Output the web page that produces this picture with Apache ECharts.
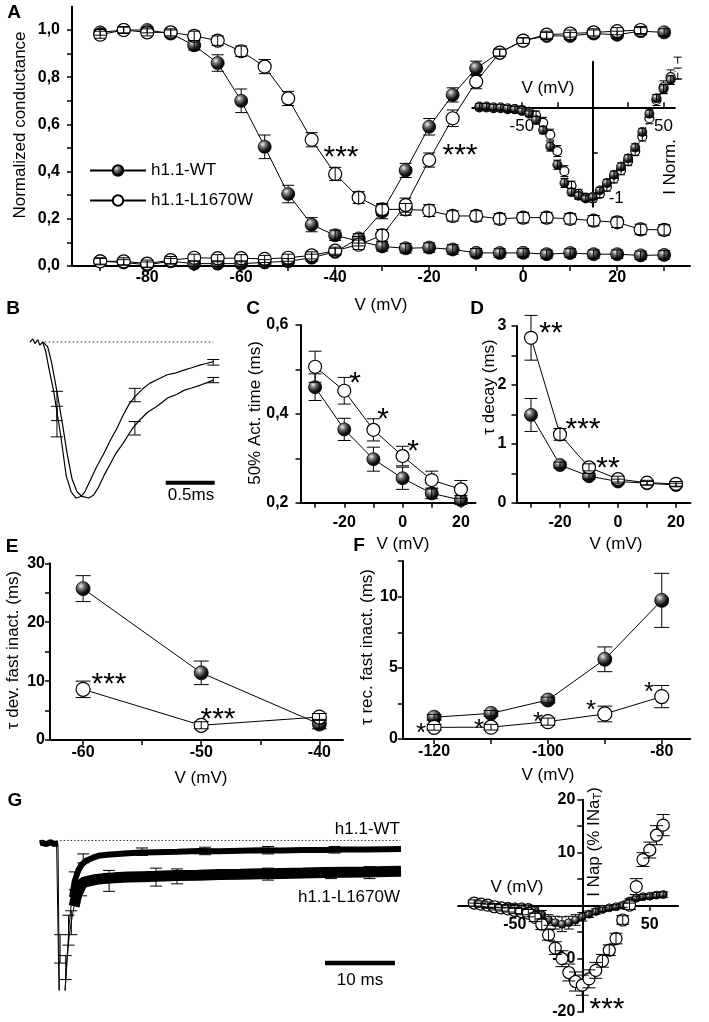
<!DOCTYPE html>
<html><head><meta charset="utf-8">
<script src="https://cdn.jsdelivr.net/npm/echarts@6/dist/echarts.min.js"></script>
<style>html,body{margin:0;padding:0;background:#fff}#c{width:709px;height:1022px}</style>
</head><body><div id="c"></div>
<script>
// ===== DATA =====
// Panel A: steady-state inactivation & activation (normalized conductance)
const A_V = [-90,-85,-80,-75,-70,-65,-60,-55,-50,-45,-40,-35,-30,-25,-20,-15,-10,-5,0,5,10,15,20,25,30];
const A_inact_WT = [0.99,1.0,1.0,0.985,0.935,0.86,0.70,0.505,0.305,0.175,0.13,0.105,0.083,0.075,0.078,0.07,0.056,0.055,0.056,0.05,0.055,0.05,0.05,0.045,0.047];
const A_inact_WT_err = [0.012,0.012,0.012,0.015,0.02,0.035,0.05,0.05,0.037,0.03,0.022,0.02,0.02,0.02,0.02,0.02,0.018,0.018,0.018,0.018,0.018,0.018,0.018,0.018,0.018];
const A_inact_MUT = [0.98,1.0,0.99,0.99,0.975,0.955,0.91,0.845,0.71,0.535,0.39,0.29,0.24,0.24,0.235,0.212,0.212,0.2,0.205,0.205,0.2,0.192,0.185,0.155,0.153];
const A_inact_MUT_err = [0.015,0.015,0.015,0.015,0.02,0.02,0.022,0.03,0.03,0.03,0.028,0.025,0.025,0.025,0.025,0.022,0.022,0.022,0.022,0.022,0.022,0.022,0.022,0.022,0.022];
const A_act_WT = [0.02,0.015,0.005,0.02,0.01,0.01,0.01,0.015,0.02,0.035,0.06,0.117,0.23,0.405,0.59,0.725,0.838,0.904,0.955,0.975,0.975,0.985,0.98,0.995,0.99];
const A_act_WT_err = [0.012,0.012,0.012,0.012,0.012,0.012,0.012,0.012,0.012,0.015,0.015,0.02,0.03,0.03,0.035,0.03,0.03,0.015,0.012,0.015,0.015,0.015,0.015,0.015,0.015];
const A_V_actMUT = [-90,-85,-80,-75,-70,-65,-60,-55,-50,-45,-40,-35,-30,-25,-20,-15,-10,-5,0,5,10,15,20,25];
const A_act_MUT = [0.02,0.02,0.01,0.025,0.035,0.033,0.033,0.03,0.035,0.045,0.065,0.09,0.13,0.258,0.449,0.626,0.781,0.904,0.955,0.98,0.985,0.99,0.995,1.0];
const A_act_MUT_err = [0.015,0.015,0.015,0.015,0.015,0.015,0.015,0.015,0.015,0.015,0.015,0.02,0.025,0.03,0.03,0.035,0.03,0.015,0.012,0.015,0.015,0.015,0.015,0.015];
// Panel A inset: normalized I-V
const IN_V = [-80,-75,-70,-65,-60,-55,-50,-45,-40,-35,-30,-25,-20,-15,-10,-5,0,5,10,15,20,25,30,35,40,45,50,55,60];
const IN_WT = [0.01,0.01,0.0,0.0,-0.01,-0.02,-0.04,-0.07,-0.14,-0.25,-0.43,-0.63,-0.83,-0.93,-0.97,-1.0,-0.98,-0.91,-0.83,-0.74,-0.65,-0.56,-0.44,-0.27,-0.07,0.1,0.2,0.3,0.37];
const IN_WT_err = [0.03,0.03,0.03,0.03,0.03,0.03,0.03,0.03,0.04,0.04,0.05,0.05,0.05,0.04,0.04,0.03,0.03,0.03,0.04,0.04,0.04,0.04,0.04,0.04,0.04,0.04,0.05,0.05,0.06];
const IN_MUT = [0.0,0.0,-0.01,-0.01,-0.02,-0.02,-0.03,-0.05,-0.09,-0.17,-0.3,-0.48,-0.7,-0.86,-0.95,-0.99,-1.0,-0.95,-0.87,-0.78,-0.69,-0.59,-0.48,-0.32,-0.12,0.08,0.22,0.33,0.43];
const IN_MUT_err = [0.03,0.03,0.03,0.03,0.03,0.03,0.04,0.04,0.05,0.06,0.06,0.06,0.06,0.05,0.05,0.04,0.04,0.04,0.05,0.05,0.05,0.05,0.05,0.05,0.06,0.06,0.07,0.08,0.12];
// Panel B: averaged normalized current traces (time ms, normalized I)
const B_t1 = [0,0.03,0.05,0.08,0.1,0.13,0.16,0.19,0.24,0.31,0.37,0.42,0.47,0.52,0.56,0.62,0.68,0.75,0.82,0.89,0.95,1.01,1.07,1.15,1.22,1.3,1.4,1.48,1.57,1.65,1.74,1.8,1.87];
const B_I1 = [0,0.02,-0.01,0.015,-0.02,0.0,-0.06,-0.16,-0.31,-0.585,-0.86,-0.96,-1.0,-0.99,-0.96,-0.88,-0.8,-0.72,-0.63,-0.55,-0.47,-0.4,-0.35,-0.3,-0.265,-0.24,-0.21,-0.2,-0.18,-0.165,-0.147,-0.138,-0.126];
const B_t2 = [0.13,0.18,0.22,0.27,0.33,0.38,0.43,0.48,0.53,0.6,0.65,0.7,0.76,0.82,0.88,0.95,1.01,1.05,1.12,1.2,1.3,1.4,1.5,1.57,1.65,1.74,1.8,1.87];
const B_I2 = [0,-0.03,-0.13,-0.3,-0.52,-0.72,-0.88,-0.96,-0.99,-1.0,-0.98,-0.93,-0.85,-0.78,-0.71,-0.65,-0.59,-0.55,-0.5,-0.45,-0.41,-0.36,-0.335,-0.31,-0.295,-0.276,-0.262,-0.244];
const B_err_t = [0.275,0.275,1.07,1.07,1.87,1.87];
const B_err_I = [-0.41,-0.51,-0.34,-0.553,-0.13,-0.244];
const B_err_e = [0.094,0.098,0.043,0.043,0.018,0.017];
// Panel C: 50% activation time (ms)
const CD_V = [-30,-20,-10,0,10,20];
const C_WT = [0.46,0.365,0.298,0.255,0.221,0.206];
const C_WT_err = [0.03,0.025,0.027,0.025,0.012,0.01];
const C_MUT = [0.506,0.452,0.364,0.305,0.251,0.23];
const C_MUT_err = [0.035,0.03,0.025,0.022,0.02,0.02];
// Panel D: tau decay (ms)
const D_WT = [1.49,0.64,0.45,0.36,0.33,0.30];
const D_WT_err = [0.28,0.05,0.05,0.04,0.03,0.03];
const D_MUT = [2.8,1.16,0.6,0.4,0.34,0.32];
const D_MUT_err = [0.38,0.1,0.06,0.05,0.04,0.04];
// Panel E: tau development of fast inactivation (ms)
const E_V = [-60,-50,-40];
const E_WT = [25.7,11.4,2.7]; const E_WT_err = [2.2,2.0,0.8];
const E_MUT = [8.6,2.5,3.9];  const E_MUT_err = [1.4,0.6,0.6];
// Panel F: tau recovery from fast inactivation (ms)
const F_V = [-120,-110,-100,-90,-80];
const F_WT = [1.53,1.8,2.74,5.6,9.74]; const F_WT_err = [0.2,0.2,0.2,0.87,1.9];
const F_MUT = [0.82,0.83,1.22,1.76,2.98]; const F_MUT_err = [0.2,0.2,0.25,0.55,0.78];
// Panel G left: persistent current traces (time ms, normalized I)
const G_WT_t = [-2.6,-2.2,-1.8,-1.4,-1.0,-0.6,-0.2,0,0.25,0.6,1.0,1.3,1.6,2.0,2.4,2.9,3.4,4,5,6,7,8.5,10,12,14,17,20,23,26,29,32,35,38,41,44,47,49];
const G_WT_I = [-0.02,-0.015,-0.025,-0.02,-0.01,-0.025,-0.02,-0.02,-1.3,-1.25,-1.02,-0.78,-0.56,-0.38,-0.27,-0.2,-0.16,-0.135,-0.115,-0.1,-0.095,-0.09,-0.085,-0.08,-0.078,-0.075,-0.07,-0.072,-0.068,-0.066,-0.067,-0.063,-0.064,-0.06,-0.061,-0.058,-0.057];
const G_MUT_t = [0,0.25,0.7,1.0,1.3,1.6,1.95,2.3,2.7,3.2,3.6,4.5,5.5,6.5,8,10,12,14,17,20,23,26,29,32,35,38,41,44,47,49];
const G_MUT_I = [-0.02,-1.3,-1.2,-1.0,-0.8,-0.64,-0.53,-0.44,-0.36,-0.31,-0.28,-0.27,-0.26,-0.255,-0.25,-0.245,-0.242,-0.24,-0.235,-0.232,-0.228,-0.226,-0.222,-0.22,-0.218,-0.214,-0.212,-0.21,-0.207,-0.205];
const G_err_WT = [[0.3,-0.725,0.095],[1.5,-0.6,0.1],[2.4,-0.27,0.06],[3.6,-0.12,0.03],[12,-0.075,0.025],[21,-0.07,0.025],[30,-0.065,0.025],[39.5,-0.062,0.022]];
const G_err_MUT = [[1.1,-0.85,0.08],[1.9,-0.55,0.08],[3.3,-0.32,0.05],[7.3,-0.27,0.07],[14,-0.245,0.06],[17,-0.24,0.05],[30,-0.225,0.04],[39,-0.22,0.035],[44.5,-0.215,0.04]];
// Panel G right: persistent current I-V (% INaT)
const GR_V = [-80,-75,-70,-65,-60,-55,-50,-45,-40,-35,-30,-25,-20,-15,-10,-5,0,5,10,15,20,25,30,35,40,45,50,55,60];
const GR_MUT = [0.5,0.3,0.1,-0.2,-0.4,-0.6,-0.9,-1.1,-1.4,-2.2,-3.5,-5.5,-8.0,-10.0,-12.6,-14.3,-15.0,-13.8,-12.2,-10.4,-8.4,-6.2,-2.7,0.1,3.6,8.7,10.5,13.3,15.2];
const GR_MUT_err = [0.6,0.6,0.6,0.6,0.6,0.6,0.6,0.6,0.7,0.8,1.0,1.0,1.2,1.5,1.6,1.8,1.9,1.7,1.5,1.2,1.0,1.0,0.8,0.8,1.5,1.3,1.5,1.8,2.0];
const GR_WT = [0.2,0.1,0.0,0.0,-0.1,-0.1,-0.2,-0.2,-0.3,-0.8,-1.7,-2.7,-3.2,-3.5,-3.2,-2.7,-2.1,-1.6,-1.1,-0.7,-0.4,-0.2,0.1,0.9,1.4,1.7,1.8,2.0,2.1];
const GR_WT_err = [0.3,0.3,0.3,0.3,0.3,0.3,0.3,0.3,0.4,0.6,0.8,1.0,1.2,1.4,1.2,1.0,0.8,0.6,0.5,0.4,0.4,0.4,0.4,0.4,0.4,0.4,0.4,0.5,0.5];

// ===== STYLE / BUILD =====
const FONT = "'Liberation Sans', Arial, Helvetica, sans-serif";
const WT = 'h1.1-WT', MUT = 'h1.1-L1670W';
const sphere = {type:'radial', x:0.36, y:0.32, r:0.7, colorStops:[
  {offset:0, color:'#f2f2f2'},{offset:0.3, color:'#7a7a7a'},{offset:0.7, color:'#151515'},{offset:1, color:'#000'}]};
const comma = v => v.toFixed(1).replace('.', ',');
const intf = v => String(Math.round(v));

function axis(gi, min, max, ticks, labels, fmt, lab, tick, extra) {
  return Object.assign({type:'value', gridIndex:gi, min:min, max:max, splitLine:{show:false},
    axisLine:{show:true, onZero:false, lineStyle:{color:'#000', width:2}},
    axisTick:Object.assign({show:true, inside:false, length:5, customValues:ticks, lineStyle:{color:'#000', width:1.5}}, tick||{}),
    axisLabel:Object.assign({show:true, customValues:labels, formatter:fmt, color:'#000', fontFamily:FONT,
      fontSize:16, fontWeight:'bold', margin:6, hideOverlap:false}, lab||{})}, extra||{});
}
function hidden(gi, min, max) {
  return {type:'value', gridIndex:gi, min:min, max:max, show:false, splitLine:{show:false}};
}
function pts(xs, ys) { return xs.map((x,i)=>[x, ys[i]]); }
function mark(gi, xs, ys, filled, size, extra) {
  return Object.assign({type:'line', name: filled?WT:MUT, xAxisIndex:gi, yAxisIndex:gi, data:pts(xs,ys),
    symbol:'circle', symbolSize:size, showSymbol:true, showAllSymbol:true, silent:true,
    lineStyle:{color:'#000', width:1},
    itemStyle: filled ? {color:sphere, borderColor:'#000', borderWidth:0.8} : {color:'#fff', borderColor:'#000', borderWidth:1.2},
    z: filled?3:4}, extra||{});
}
function errs(gi, xs, ys, es, r, cap, z) {
  return {type:'custom', xAxisIndex:gi, yAxisIndex:gi, silent:true, z: z||5, clip:false,
    data: xs.map((x,i)=>[x, ys[i], ys[i]-es[i], ys[i]+es[i]]),
    renderItem:function(p, api){
      const x=api.value(0), y=api.value(1), lo=api.value(2), hi=api.value(3);
      const c=api.coord([x,y]), t=api.coord([x,hi]), b=api.coord([x,lo]);
      const st={stroke:'#000', lineWidth:1};
      const L=(x1,y1,x2,y2)=>({type:'line', shape:{x1:x1,y1:y1,x2:x2,y2:y2}, style:st});
      const ch=[];
      if (c[1]-t[1] > r+0.5) ch.push(L(c[0],c[1]-r,c[0],t[1])); else ch.push(L(c[0],c[1],c[0],t[1]));
      if (b[1]-c[1] > r+0.5) ch.push(L(c[0],c[1]+r,c[0],b[1])); else ch.push(L(c[0],c[1],c[0],b[1]));
      ch.push(L(c[0]-cap,t[1],c[0]+cap,t[1]));
      ch.push(L(c[0]-cap,b[1],c[0]+cap,b[1]));
      return {type:'group', children:ch};
    }};
}
function trace(gi, xs, ys, w, extra) {
  return Object.assign({type:'line', xAxisIndex:gi, yAxisIndex:gi, data:pts(xs,ys), symbol:'none', showSymbol:false,
    silent:true, clip:true, lineStyle:{color:'#000', width:w}, z:3}, extra||{});
}
function txt(text, x, y, o) {
  o = o||{};
  return {type:'text', x:x, y:y, rotation:o.rot||0, z:100, silent:true,
    style:Object.assign({text:text, fill:'#000', fontFamily:FONT, fontSize:17, fontWeight:'normal',
      align:o.align||'center', verticalAlign:'middle', textAlign:o.align||'center', textVerticalAlign:'middle'}, o.style||{})};
}
function star(text, x, y, size) { size=size||30; return txt(text, x, y+0.27*size, {style:{fontSize:size}}); }

const grids = [
  {left:72, top:6.4, width:618, height:259.6},        // 0 A
  {left:472.3, top:61.7, width:202.6, height:145},    // 1 inset
  {left:30, top:326.4, width:186.2, height:184.1},    // 2 B
  {left:300.5, top:325, width:175, height:177.7},     // 3 C
  {left:516.5, top:326, width:174, height:176.7},     // 4 D
  {left:50, top:563.3, width:293, height:176.7},      // 5 E
  {left:402.8, top:561.1, width:287.4, height:177.9}, // 6 F
  {left:39.8, top:820, width:361.2, height:170},      // 7 G left
  {left:458.1, top:799.7, width:220, height:212}      // 8 G right
];

const xAxes = [
  axis(0, -96, 35.5, [-90,-80,-70,-60,-50,-40,-30,-20,-10,0,10,20,30], [-80,-60,-40,-20,0,20], intf, {margin:4}),
  axis(1, -85, 58, [-50,-25,25,50], [-50,50], intf, {fontWeight:'normal', fontSize:17, margin:11}, {inside:true}, {offset:-99.4}),
  hidden(2, 0, 1.9),
  axis(3, -35, 25, [-30,-20,-10,0,10,20], [-20,0,20], intf, {margin:12}),
  axis(4, -35, 25, [-30,-20,-10,0,10,20], [-20,0,20], intf, {margin:12}),
  axis(5, -62.8, -38, [-60,-55,-50,-45,-40], [-60,-50,-40], intf, {margin:5}),
  axis(6, -125.5, -75, [-120,-110,-100,-90,-80], [-120,-100,-80], intf, {margin:5}),
  hidden(7, -2.6, 49),
  axis(8, -92, 71, [-50,50], [-50,50], intf, {margin:11}, {}, {offset:-106})
];
const yAxes = [
  axis(0, 0, 1.1, [0,0.1,0.2,0.3,0.4,0.5,0.6,0.7,0.8,0.9,1.0], [0,0.2,0.4,0.6,0.8,1.0], comma, {margin:12}),
  axis(1, -1.09, 0.5, [-0.5,-1], [-1], intf, {fontWeight:'normal', fontSize:17, inside:true, margin:16}, {inside:true}, {offset:-120.4}),
  hidden(2, -1.08, 0.1),
  axis(3, 0.2, 0.6, [0.2,0.3,0.4,0.5,0.6], [0.2,0.4,0.6], comma, {margin:12}),
  axis(4, 0, 3, [0,0.5,1,1.5,2,2.5,3], [0,1,2,3], intf, {margin:10}),
  axis(5, 0, 30, [0,5,10,15,20,25,30], [0,10,20,30], intf, {margin:5}),
  axis(6, 0, 12.5, [0,2.5,5,7.5,10,12.5], [0,5,10], intf, {margin:5}),
  hidden(7, -1.0, 0.137),
  axis(8, -20, 20, [-20,-15,-10,-5,5,10,15,20], [-20,-10,10,20], intf, {margin:7}, {}, {offset:-124.2})
];

const series = [];
// A
series.push(mark(0, A_V, A_inact_WT, true, 13));
series.push(mark(0, A_V, A_act_WT, true, 13));
series.push(mark(0, A_V, A_inact_MUT, false, 13));
series.push(mark(0, A_V_actMUT, A_act_MUT, false, 13));
series.push(errs(0, A_V, A_inact_WT, A_inact_WT_err, 6.5, 6));
series.push(errs(0, A_V, A_act_WT, A_act_WT_err, 6.5, 6));
series.push(errs(0, A_V, A_inact_MUT, A_inact_MUT_err, 6.5, 6, 6));
series.push(errs(0, A_V_actMUT, A_act_MUT, A_act_MUT_err, 6.5, 6, 6));
// inset
series.push(mark(1, IN_V, IN_MUT, false, 9, {lineStyle:{color:'#444', width:1, type:[2,2]}, z:7}));
series.push(mark(1, IN_V, IN_WT, true, 9, {lineStyle:{opacity:0}, z:8}));
series.push(errs(1, IN_V, IN_MUT, IN_MUT_err, 4.5, 4, 7.5));
series.push(errs(1, IN_V, IN_WT, IN_WT_err, 4.5, 4, 9));
// B
series.push(trace(2, [0.15,1.87], [0,0], 1, {lineStyle:{color:'#333', width:1, type:[1.5,2.5]}}));
series.push(trace(2, B_t1, B_I1, 1.2));
series.push(trace(2, B_t2, B_I2, 1.2));
series.push(errs(2, B_err_t, B_err_I, B_err_e, 0, 6));
series.push(trace(2, [1.385,1.885], [-0.902,-0.902], 4));
// C
series.push(mark(3, CD_V, C_WT, true, 13));
series.push(mark(3, CD_V, C_MUT, false, 13));
series.push(errs(3, CD_V, C_WT, C_WT_err, 6.5, 6.5));
series.push(errs(3, CD_V, C_MUT, C_MUT_err, 6.5, 6.5, 6));
// D
series.push(mark(4, CD_V, D_WT, true, 13));
series.push(mark(4, CD_V, D_MUT, false, 13));
series.push(errs(4, CD_V, D_WT, D_WT_err, 6.5, 6.5));
series.push(errs(4, CD_V, D_MUT, D_MUT_err, 6.5, 6.5, 6));
// E
series.push(mark(5, E_V, E_WT, true, 14));
series.push(mark(5, E_V, E_MUT, false, 14));
series.push(errs(5, E_V, E_WT, E_WT_err, 7, 7.5));
series.push(errs(5, E_V, E_MUT, E_MUT_err, 7, 7.5, 6));
// F
series.push(mark(6, F_V, F_WT, true, 14));
series.push(mark(6, F_V, F_MUT, false, 14));
series.push(errs(6, F_V, F_WT, F_WT_err, 7, 7.5));
series.push(errs(6, F_V, F_MUT, F_MUT_err, 7, 7.5, 6));
// G left
series.push(trace(7, [0.3,48.9], [0,0], 1, {lineStyle:{color:'#333', width:1, type:[1.5,2]}}));
series.push(trace(7, G_WT_t, G_WT_I, 1));
series.push(trace(7, G_MUT_t, G_MUT_I, 1));
series.push(trace(7, G_WT_t, G_WT_I.map((v,i)=> (G_WT_t[i]>0.05 && G_WT_t[i]<2.0) ? '-' : v), 6));
series.push(trace(7, G_MUT_t, G_MUT_I.map((v,i)=> (G_MUT_t[i]>0.05 && G_MUT_t[i]<2.3) ? '-' : v), 11));
series.push(errs(7, G_err_WT.map(d=>d[0]), G_err_WT.map(d=>d[1]), G_err_WT.map(d=>d[2]), 0, 6));
series.push(errs(7, G_err_MUT.map(d=>d[0]), G_err_MUT.map(d=>d[1]), G_err_MUT.map(d=>d[2]), 0, 6));
series.push(trace(7, [38.14,48.14], [-0.82,-0.82], 4.5, {clip:false}));
// G right
series.push(mark(8, GR_V, GR_WT, true, 8, {lineStyle:{opacity:0}}));
series.push(mark(8, GR_V, GR_MUT, false, 12, {lineStyle:{opacity:0}}));
series.push(errs(8, GR_V, GR_WT, GR_WT_err, 4, 5));
series.push(errs(8, GR_V, GR_MUT, GR_MUT_err, 6, 6.5, 6));

const R = Math.PI/2;
const graphics = [
  // panel letters
  txt('A', 14, 13, {style:{fontSize:19, fontWeight:'bold'}}),
  txt('B', 13, 309, {style:{fontSize:19, fontWeight:'bold'}}),
  txt('C', 253, 309, {style:{fontSize:19, fontWeight:'bold'}}),
  txt('D', 477, 309, {style:{fontSize:19, fontWeight:'bold'}}),
  txt('E', 12, 547, {style:{fontSize:19, fontWeight:'bold'}}),
  txt('F', 359, 546, {style:{fontSize:19, fontWeight:'bold'}}),
  txt('G', 15, 801, {style:{fontSize:19, fontWeight:'bold'}}),
  // axis titles
  txt('Normalized conductance', 20, 125, {rot:R}),
  txt('V (mV)', 381, 305),
  txt('V (mV)', 548, 88),
  txt('I Norm.', 670, 167, {rot:R}),
  txt('50% Act. time (ms)', 255, 413, {rot:R}),
  txt('V (mV)', 403, 544),
  txt('\u03c4 decay (ms)', 489, 387, {rot:R}),
  txt('V (mV)', 616, 544),
  txt('\u03c4 dev. fast inact. (ms)', 13, 650, {rot:R}),
  txt('V (mV)', 201, 778),
  txt('\u03c4 rec. fast inact. (ms)', 367, 647, {rot:R}),
  txt('V (mV)', 548, 775),
  txt('V (mV)', 517, 887),
  {type:'text', x:594, y:842, rotation:R, z:100, silent:true,
   style:{text:'I Nap (% INa{s|T})', fill:'#000', fontFamily:FONT, fontSize:17, align:'center', verticalAlign:'middle',
     textAlign:'center', textVerticalAlign:'middle', rich:{s:{fontSize:11, fontFamily:FONT, fill:'#000', padding:[8,0,0,0]}}}},
  // misc labels
  txt('0.5ms', 191, 495),
  txt('h1.1-WT', 400, 829, {align:'right'}),
  txt('h1.1-L1670W', 400, 897, {align:'right'}),
  txt('10 ms', 360, 980),
  // significance stars
  star('***', 341, 150), star('***', 460, 148),
  star('*', 355, 376), star('*', 383, 412), star('*', 413, 444),
  star('**', 551, 326), star('***', 583, 422), star('**', 608, 461),
  star('***', 109, 677), star('***', 218, 712),
  star('*', 421, 727, 26), star('*', 479, 723, 26), star('*', 538, 716, 26), star('*', 591, 704, 26), star('*', 649, 686, 26),
  star('***', 607, 1002)
];

const option = {
  animation:false, backgroundColor:'#fff',
  textStyle:{fontFamily:FONT},
  grid: grids,
  xAxis: xAxes, yAxis: yAxes,
  legend:{data:[WT, MUT], orient:'vertical', left:84, top:157, itemWidth:56, itemHeight:13, itemGap:13,
    selectedMode:false, textStyle:{fontFamily:FONT, fontSize:17, color:'#000'}},
  series: series,
  graphic: graphics
};
const chart = echarts.init(document.getElementById('c'), null, {renderer:'canvas', width:709, height:1022});
chart.setOption(option);
</script>
</body></html>
